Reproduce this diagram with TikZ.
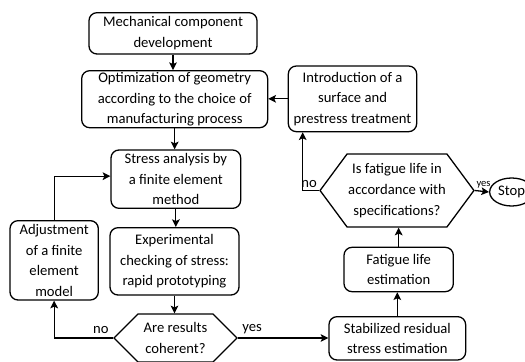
\documentclass[tikz,border=0pt]{standalone}
\usepackage{fontspec}
\setmainfont{Carlito}
\usepackage{tikz}
\usetikzlibrary{arrows.meta, positioning, calc, shapes.symbols, shapes.geometric}
\tikzset{
>={Stealth[length=2.3mm, width=2.3mm, inset=0.5mm]},
hv path/.style={to path={-| (\tikztotarget) \tikztonodes}},
vh path/.style={to path={|- (\tikztotarget) \tikztonodes}},
box/.style={%
    rectangle,
    rounded corners=2.4mm,
    draw=black,
    align=center,
    inner sep=1pt,
},
test/.style={%
    signal, signal to=west and east, draw=black, align=center, inner sep=1pt
},
stop/.style={%
    ellipse, draw=black, inner sep=1pt, minimum width=1.32cm, minimum height=0.84cm
},
}

\begin{document}
\begin{tikzpicture}[-, line width=1.1pt, font=\fontsize{12.5}{17.6}\selectfont]
	\useasboundingbox (0,0) rectangle (15.75,-10.86);

	\node[box, minimum width=5.04cm, minimum height=1.24cm] at (5.19,-1.0) (mech) {Mechanical component\\development};
	\node[box, minimum width=5.58cm, minimum height=1.71cm] at (5.24,-2.976) (geom) {Optimization of geometry\\according to the choice of\\manufacturing process};
	\node[box, minimum width=3.89cm, minimum height=1.75cm] at (5.275,-5.375) (fem) {Stress analysis by\\a finite element\\method};
	\node[box, minimum width=3.87cm, minimum height=2.02cm] at (5.235,-7.84) (exp) {Experimental\\checking of stress:\\rapid prototyping};
	\node[box, minimum width=2.65cm, minimum height=2.38cm] at (1.625,-7.81) (adj) {Adjustment\\of a finite\\element\\model};
	\node[test, signal pointer angle=90, minimum width=3.69cm, minimum height=1.44cm] at (5.265,-10.14) (coh) {Are results\\coherent?};

	\node[box, minimum width=4.1cm, minimum height=1.3cm] at (11.92,-10.15) (stab) {Stabilized residual\\stress estimation};
	\node[box, minimum width=3.28cm, minimum height=1.33cm] at (11.96,-8.085) (life) {Fatigue life\\estimation};
	\node[test, signal pointer angle=107, minimum width=4.2cm, minimum height=2.19cm] at (11.91,-5.715) (spec) {Is fatigue life in\\accordance with\\specifications?};
	\node[stop] at (15.35,-5.76) (stop) {Stop};
	\node[box, minimum width=3.85cm, minimum height=1.97cm] at (10.575,-2.965) (treat) {Introduction of a\\surface and\\prestress treatment};

	\path[->] (mech.south) edge (mech.south |- geom.north);
	\path[->] (geom.south) edge (geom.south |- fem.north);
	\path[->] (fem.south) edge (fem.south |- exp.north);
	\path[->] (exp.south) edge (exp.south |- coh.north);

	\path[->] (coh.west) edge[hv path] node[above left, pos=0] {no} (adj.south);
	\path[->] (adj.north) edge[vh path] ([yshift=0.09cm]fem.west);
	\path[->] (coh.east) edge node[above right, pos=0] {yes} (coh.east -| stab.west);

	\path[->] (stab.north) edge (stab.north |- life.south);
	\path[->] (life.north) edge (life.north |- spec.south);
	\path[->] (spec.west) edge[hv path] node[above left, pos=0, inner sep=1.5pt] {no} ([xshift=0.45cm]treat.south west);
	\path[->] (spec.east) edge node[above right, pos=0, inner sep=1pt, font=\fontsize{9}{10}\selectfont] {yes} (stop.west);
	\path[->] (treat.west) edge (treat.west -| geom.east);
\end{tikzpicture}
\end{document}
